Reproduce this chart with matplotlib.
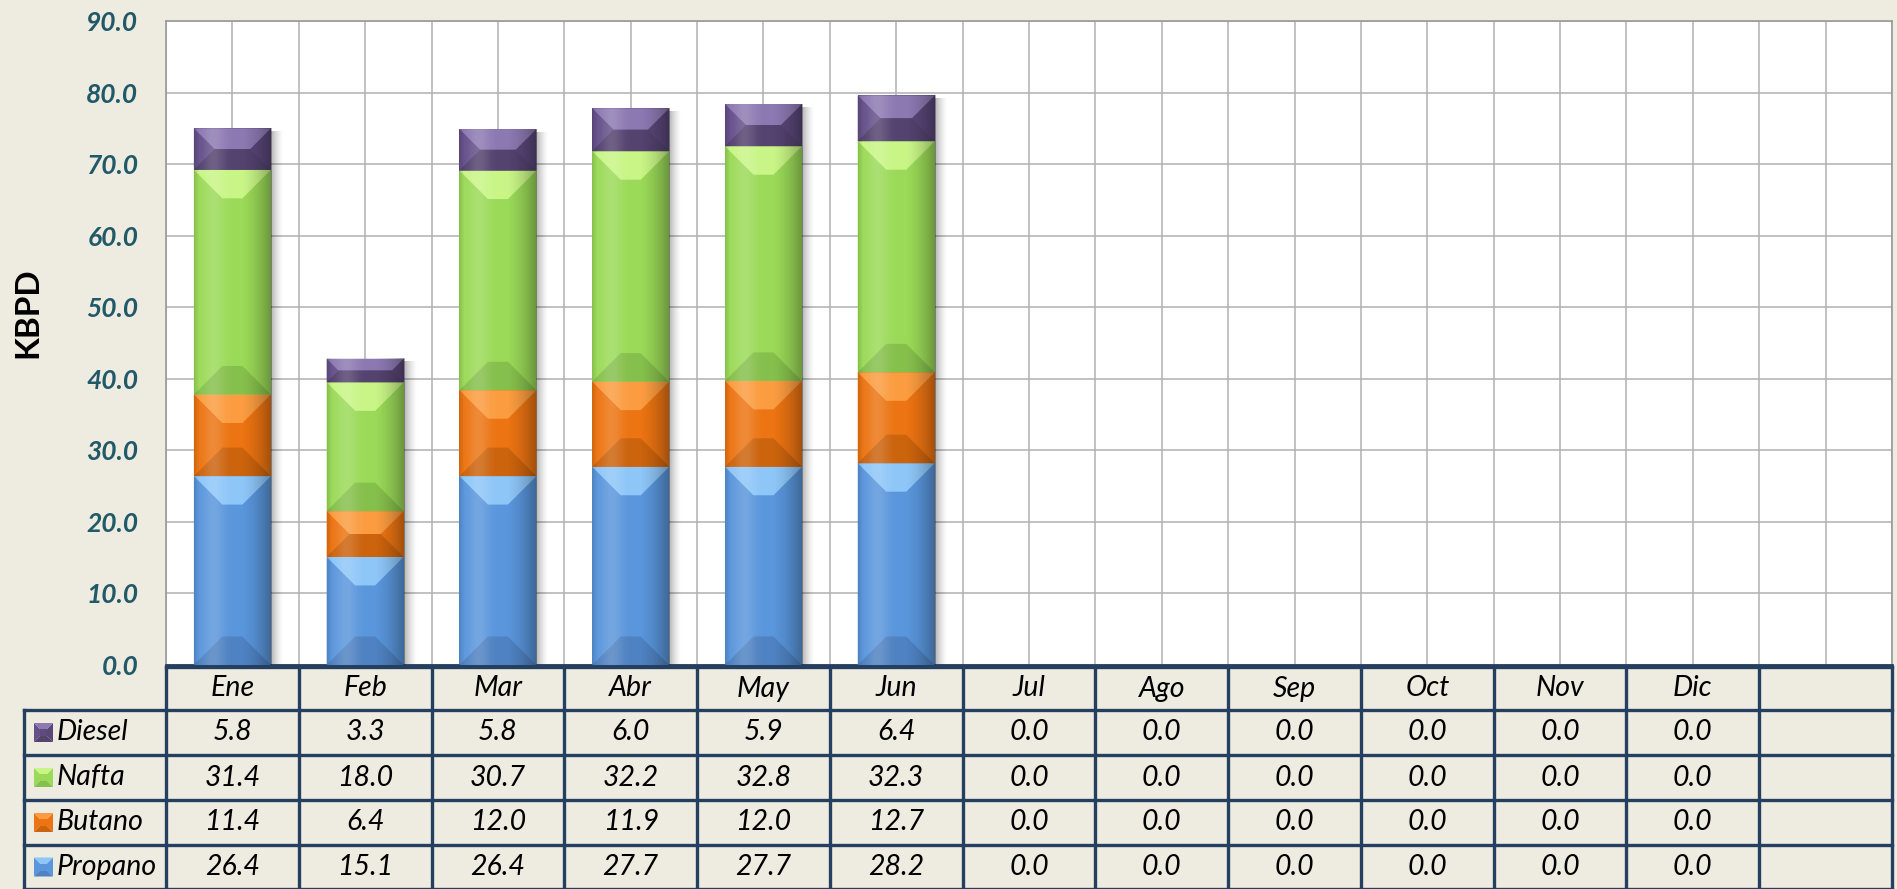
import matplotlib
matplotlib.use('Agg')
import matplotlib.pyplot as plt
import numpy as np
from matplotlib.patches import Polygon, Rectangle
from matplotlib.lines import Line2D
from matplotlib.transforms import Affine2D

# ---------------- data ----------------
months = ['Ene', 'Feb', 'Mar', 'Abr', 'May', 'Jun', 'Jul', 'Ago', 'Sep', 'Oct', 'Nov', 'Dic']
series_names = ['Diesel', 'Nafta', 'Butano', 'Propano']   # table order (top to bottom)
propano = [26.4, 15.1, 26.4, 27.7, 27.7, 28.2, 0.0, 0.0, 0.0, 0.0, 0.0, 0.0]
butano = [11.4, 6.4, 12.0, 11.9, 12.0, 12.7, 0.0, 0.0, 0.0, 0.0, 0.0, 0.0]
nafta = [31.4, 18.0, 30.7, 32.2, 32.8, 32.3, 0.0, 0.0, 0.0, 0.0, 0.0, 0.0]
diesel = [5.8, 3.3, 5.8, 6.0, 5.9, 6.4, 0.0, 0.0, 0.0, 0.0, 0.0, 0.0]
y_ticks = [0, 10, 20, 30, 40, 50, 60, 70, 80, 90]
y_label = 'KBPD'

# ---------------- style ----------------
FONT = ['Lato', 'DejaVu Sans']
plt.rcParams['font.family'] = FONT
BG = '#EEECE1'
NAVY = '#243F60'
GRID = '#B0B0B0'
TEAL = '#215968'
# main, top, bottom, left, right
COLS = {
    'Propano': ('#5A96DC', '#8EC6F8', '#4F82C2', '#5A96DC', '#5A96DC'),
    'Butano': ('#EC7412', '#FB9C40', '#CC630D', '#EC7412', '#EC7412'),
    'Nafta': ('#9BDA58', '#C8F586', '#86C04C', '#9BDA58', '#9BDA58'),
    'Diesel': ('#5E4A7E', '#8D79B2', '#54426F', '#65508A', '#5A4679'),
}

W, H = 1897, 889
fig = plt.figure(figsize=(W / 100, H / 100), dpi=100)
fig.patch.set_facecolor(BG)

AX_L, AX_R, AX_T, AX_B = 166, 1892, 21, 665
ax = fig.add_axes([AX_L / W, 1 - AX_B / H, (AX_R - AX_L) / W, (AX_B - AX_T) / H])
ncat = len(months) + 1
ax.set_xlim(-0.5, ncat - 0.5)
ax.set_ylim(0, 90)
ax.set_facecolor('white')
sx = (AX_R - AX_L) / ncat     # px per x unit
sy = (AX_B - AX_T) / 90.0     # px per y unit

# grid
ax.set_xticks(np.arange(-0.5, ncat - 0.49, 0.5))
ax.set_xticklabels([])
ax.set_yticks(y_ticks)
ax.set_yticklabels([f'{v:.1f}' for v in y_ticks], fontsize=19, fontweight='bold',
                   style='italic', color=TEAL)
ax.tick_params(axis='both', length=0)
ax.tick_params(axis='y', pad=20)
ax.grid(True, color=GRID, lw=1.1, zorder=0)
ax.set_axisbelow(True)
for s in ['top', 'right', 'left']:
    ax.spines[s].set_color('#9A9A9A')
    ax.spines[s].set_linewidth(1.2)
ax.spines['bottom'].set_color(NAVY)
ax.spines['bottom'].set_linewidth(2.0)

x = np.arange(len(months))
bw = 0.58
stack_order = [('Propano', propano), ('Butano', butano), ('Nafta', nafta), ('Diesel', diesel)]


def bevel(adder, x0, y0, w, h, cols, kx, ky, transform, z):
    wp, hp = w * kx, h * ky
    if wp <= 0 or hp <= 0:
        return
    d = min(0.37 * wp, hp / 2.0)
    dx, dy = d / kx, d / ky
    main, top, bot, left, right = cols
    polys = [
        ([(x0, y0), (x0 + dx, y0 + dy), (x0 + dx, y0 + h - dy), (x0, y0 + h)], left),
        ([(x0 + w, y0), (x0 + w - dx, y0 + dy), (x0 + w - dx, y0 + h - dy), (x0 + w, y0 + h)], right),
        ([(x0, y0 + h), (x0 + w, y0 + h), (x0 + w - dx, y0 + h - dy), (x0 + dx, y0 + h - dy)], top),
        ([(x0, y0), (x0 + w, y0), (x0 + w - dx, y0 + dy), (x0 + dx, y0 + dy)], bot),
    ]
    for pts, c in polys:
        adder(Polygon(pts, closed=True, facecolor=c, edgecolor='none',
                      transform=transform, zorder=z, clip_on=False))


bottom = np.zeros(len(months))
for name, vals in stack_order:
    vals = np.array(vals)
    bars = ax.bar(x, vals, bw, bottom=bottom, color=COLS[name][0], edgecolor='none', zorder=2)
    for b in bars:
        bevel(ax.add_patch, b.get_x(), b.get_y(), b.get_width(), b.get_height(), COLS[name], sx, sy,
              ax.transData, 3)
    bottom = bottom + vals
totals = bottom

# horizontal shading across each column + shadow to the right
t = np.linspace(0, 1, 80)
white_a = 0.16 * np.exp(-((t - 0.25) / 0.14) ** 2)
black_a = 0.32 * np.clip((t - 0.6) / 0.4, 0, 1) ** 1.6 + 0.12 * np.clip((0.06 - t) / 0.06, 0, 1)
img_w = np.zeros((1, len(t), 4)); img_w[..., :3] = 1.0; img_w[0, :, 3] = white_a
img_b = np.zeros((1, len(t), 4)); img_b[0, :, 3] = black_a
ts = np.linspace(0, 1, 40)
img_s = np.zeros((1, len(ts), 4)); img_s[0, :, 3] = 0.30 * (1 - ts) ** 1.5
for xi, tot in zip(x, totals):
    if tot <= 0:
        continue
    ext = (xi - bw / 2, xi + bw / 2, 0, tot)
    ax.imshow(img_w, extent=ext, aspect='auto', zorder=4, interpolation='bilinear')
    ax.imshow(img_b, extent=ext, aspect='auto', zorder=4, interpolation='bilinear')
    ax.imshow(img_s, extent=(xi + bw / 2, xi + bw / 2 + 13 / sx, 0, tot - 3 / sy),
              aspect='auto', zorder=1.5, interpolation='bilinear')
ax.set_xlim(-0.5, ncat - 0.5)
ax.set_ylim(0, 90)

# y label
fig.text(28 / W, 1 - 313 / H, y_label, rotation=90, fontsize=24, fontweight='bold',
         ha='center', va='center', color='black')

# ---------------- data table ----------------
tp = Affine2D().scale(1, -1).translate(0, H).scale(1 / W, 1 / H) + fig.transFigure
col_edges = [ax.transData.transform((k - 0.5, 0))[0] for k in range(ncat + 1)]
row_edges = [667, 710, 755, 800, 845, 889]
LBL_L = 24
LW = 2.4

# horizontal lines
fig.add_artist(Line2D([col_edges[0], col_edges[-1]], [row_edges[0]] * 2, color=NAVY, lw=LW, transform=tp))
for ry in row_edges[1:]:
    fig.add_artist(Line2D([LBL_L, col_edges[-1]], [ry, ry], color=NAVY, lw=LW, transform=tp))
# vertical lines
fig.add_artist(Line2D([LBL_L, LBL_L], [row_edges[1], row_edges[-1]], color=NAVY, lw=LW, transform=tp))
for cx in col_edges:
    fig.add_artist(Line2D([cx, cx], [row_edges[0], row_edges[-1]], color=NAVY, lw=LW, transform=tp))

TFS = 20.5
hy = (row_edges[0] + row_edges[1]) / 2
for k, m in enumerate(months):
    cx = (col_edges[k] + col_edges[k + 1]) / 2
    fig.text(cx, hy, m, transform=tp, ha='center', va='center', fontsize=TFS, style='italic')

table_rows = [('Diesel', diesel), ('Nafta', nafta), ('Butano', butano), ('Propano', propano)]
for r, (name, vals) in enumerate(table_rows):
    cy = (row_edges[r + 1] + row_edges[r + 2]) / 2
    # legend key (pixel coords, y downward so swap top/bottom colours)
    ks = 19
    c = COLS[name]
    bevel(fig.add_artist, 34, cy - ks / 2, ks, ks, (c[0], c[2], c[1], c[3], c[4]), 1, 1, tp, 5)
    fig.add_artist(Rectangle((34 + 6, cy - ks / 2 + 6), ks - 12, ks - 12, facecolor=c[0],
                             edgecolor='none', transform=tp, zorder=6))
    fig.text(57, cy, name, transform=tp, ha='left', va='center', fontsize=TFS, style='italic')
    for k, v in enumerate(vals):
        cx = (col_edges[k] + col_edges[k + 1]) / 2
        fig.text(cx, cy, f'{v:.1f}', transform=tp, ha='center', va='center', fontsize=TFS,
                 style='italic')

fig.savefig('out.png', dpi=100, facecolor=BG)
